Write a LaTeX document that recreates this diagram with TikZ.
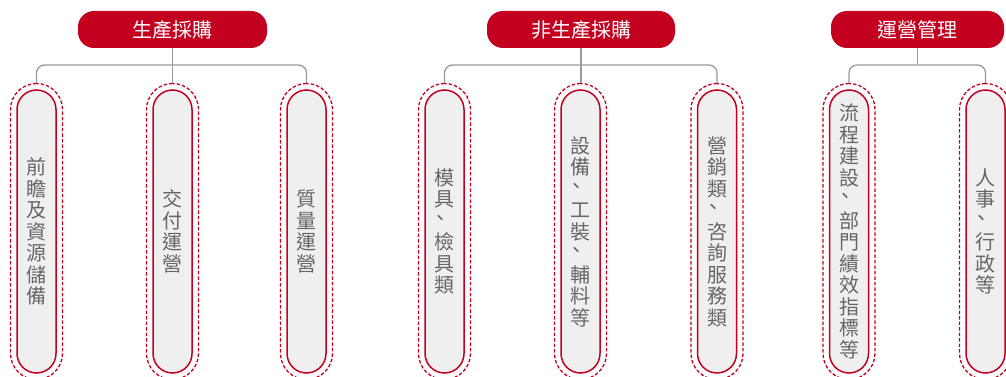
\documentclass[tikz,border=0pt]{standalone}
\usepackage{fontspec}
\newfontfamily\cjk{Noto Sans CJK TC}
\definecolor{brandred}{HTML}{C3001F}
\definecolor{pillfill}{HTML}{EFEFEF}
\definecolor{txtgray}{HTML}{666666}
\definecolor{conngray}{HTML}{9A9A9A}
\newcommand\vcm{\makebox[1em][l]{\kern-0.18em\raisebox{0.15em}[0.8em][0.1em]{、}}}
\tikzset{
  header/.style={fill=brandred, draw=none, rounded corners=16pt, minimum height=37pt,
    inner sep=0pt, text=white, font={\cjk\fontsize{20}{22}\selectfont}},
  pill/.style={fill=pillfill, draw=brandred, line width=1.5pt, rounded corners=19.5pt,
    minimum width=39pt, minimum height=283pt, inner sep=0pt},
  pillout/.style={draw=brandred, line width=1.3pt, dash pattern=on 3.5pt off 2pt,
    rounded corners=26pt, minimum width=52pt, minimum height=296pt, inner sep=0pt},
  vtext/.style={text=txtgray, align=center, inner sep=0pt,
    font={\cjk\fontsize{20}{21.5}\selectfont}},
  conn/.style={draw=conngray, line width=1.3pt, rounded corners=8pt},
}
\begin{document}
\begin{tikzpicture}[x=1pt,y=-1pt]
\useasboundingbox (0,0) rectangle (1006,377);
\clip (0,0) rectangle (1006,377);
% headers
\node[header, minimum width=189pt] (h1) at (172.5,29.5) {生產採購};
\node[header, minimum width=188pt] (h2) at (581,29.5) {非生產採購};
\node[header, minimum width=173pt] (h3) at (917.5,29.5) {運營管理};
% pills
\foreach \n/\x in {a/36.5, b/172.5, c/306.5, d/444.5, e/580.5, f/717, g/849, h/985.5}{
  \node[pillout] (o\n) at (\x,231.5) {};
  \node[pill] (p\n) at (\x,231.5) {};
}
% texts
\node[vtext] (ta) at (pa.center) {前\\瞻\\及\\資\\源\\儲\\備};
\node[vtext] (tb) at (pb.center) {交\\付\\運\\營};
\node[vtext] (tc) at (pc.center) {質\\量\\運\\營};
\node[vtext] (td) at (pd.center) {模\\具\\\vcm\\檢\\具\\類};
\node[vtext] (te) at (pe.center) {設\\備\\\vcm\\工\\裝\\\vcm\\輔\\料\\等};
\node[vtext] (tf) at (pf.center) {營\\銷\\類\\\vcm\\咨\\詢\\服\\務\\類};
\node[vtext] (tg) at (pg.center) {流\\程\\建\\設\\\vcm\\部\\門\\績\\效\\指\\標\\等};
\node[vtext] (th) at (ph.center) {人\\事\\\vcm\\行\\政\\等};
% connectors
\coordinate (j1) at (h1.south |- 0,65);
\coordinate (j2) at (h2.south |- 0,65);
\coordinate (j3) at (h3.south |- 0,65);
\draw[conn] (oa.north) |- (j1) -| (oc.north);
\draw[conn] (h1.south) -- (ob.north);
\draw[conn] (od.north) |- (j2) -| (of.north);
\draw[conn] (h2.south) -- (oe.north -| h2.south);
\draw[conn] (og.north) |- (j3) -| (oh.north);
\draw[conn] (h3.south) -- (j3);
\end{tikzpicture}
\end{document}
